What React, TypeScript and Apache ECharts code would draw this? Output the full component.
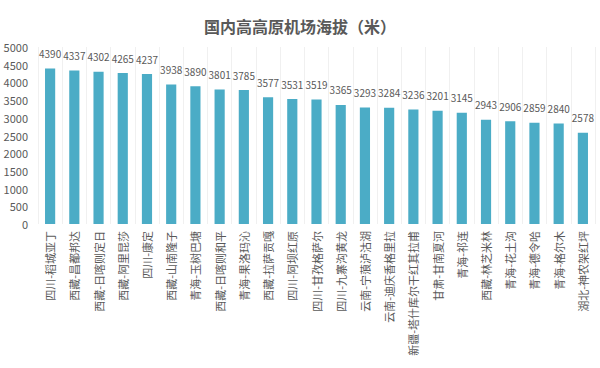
import React, { useEffect, useRef } from "react";
import * as echarts from "echarts";

const title = "国内高高原机场海拔（米）";
const categories = [
  "四川-稻城亚丁", "西藏-昌都邦达", "西藏-日喀则定日", "西藏-阿里昆莎", "四川-康定",
  "西藏-山南隆子", "青海-玉树巴塘", "西藏-日喀则和平", "青海-果洛玛沁", "西藏-拉萨贡嘎",
  "四川-阿坝红原", "四川-甘孜格萨尔", "四川-九寨沟黄龙", "云南-宁蒗泸沽湖", "云南-迪庆香格里拉",
  "新疆-塔什库尔干红其拉甫", "甘肃-甘南夏河", "青海-祁连", "西藏-林芝米林", "青海-花土沟",
  "青海-德令哈", "青海-格尔木", "湖北-神农架红坪",
];
const values = [
  4390, 4337, 4302, 4265, 4237, 3938, 3890, 3801, 3785, 3577, 3531, 3519, 3365, 3293, 3284,
  3236, 3201, 3145, 2943, 2906, 2859, 2840, 2578,
];
const yTicks = { min: 0, max: 5000, interval: 500 };

export default function App() {
  const ref = useRef<HTMLDivElement>(null);
  useEffect(() => {
    const chart = echarts.init(ref.current!, null, { renderer: "svg" });
    const font = "'Noto Sans CJK SC', 'Noto Sans', sans-serif";
    chart.setOption({
      animation: false,
      backgroundColor: "#ffffff",
      textStyle: { fontFamily: font },
      title: {
        text: title,
        left: "center",
        top: 13,
        textStyle: { fontSize: 16, fontWeight: "bold", color: "#595959", fontFamily: font },
      },
      grid: { left: 38, right: 5, top: 47, bottom: 144, containLabel: false },
      xAxis: {
        type: "category",
        data: categories,
        axisLine: { show: false },
        axisTick: { show: false },
        splitLine: { show: true, lineStyle: { color: "#f0f0f0", width: 1 } },
        axisLabel: { rotate: 90, interval: 0, fontSize: 11, color: "#595959", margin: 7, fontFamily: font },
      },
      yAxis: {
        type: "value",
        min: yTicks.min,
        max: yTicks.max,
        interval: yTicks.interval,
        axisLine: { show: false },
        axisTick: { show: false },
        splitLine: { show: false },
        axisLabel: {
          fontSize: 11,
          color: "#595959",
          margin: 10,
          fontFamily: font,
          formatter: (v: number) => String(v),
        },
      },
      series: [
        {
          type: "bar",
          data: values,
          barWidth: "42%",
          itemStyle: { color: "#4bacc6" },
          label: {
            show: true,
            position: "top",
            distance: 10,
            fontSize: 10,
            color: "#595959",
            fontFamily: font,
          },
        },
      ],
    });
    return () => chart.dispose();
  }, []);
  return <div ref={ref} style={{ width: 600, height: 368, position: "absolute", left: 0, top: 0 }} />;
}
